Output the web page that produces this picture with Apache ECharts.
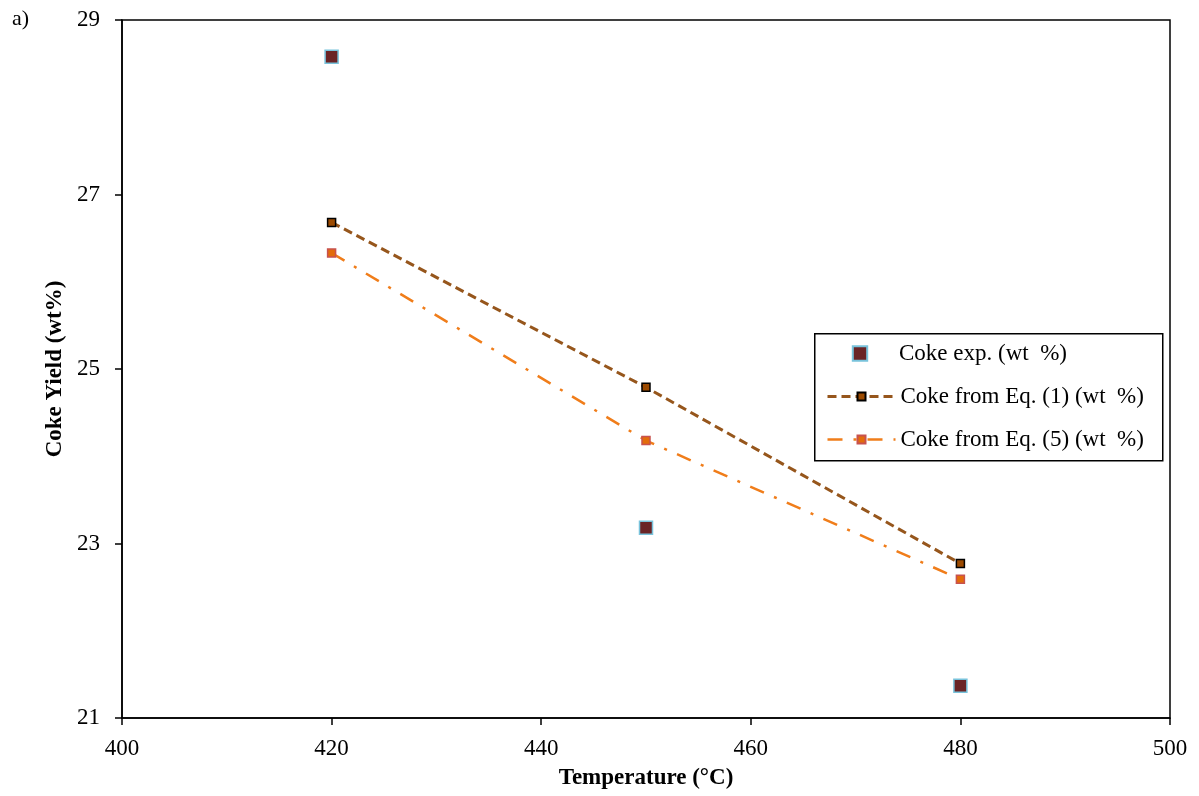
<!DOCTYPE html>
<html><head><meta charset="utf-8">
<script src="https://cdn.jsdelivr.net/npm/echarts@6/dist/echarts.min.js"></script>
<style>html,body{margin:0;padding:0;background:#fff}#c{width:1199px;height:796px}</style>
</head><body><div id="c"></div>
<script>
const temperatures = [420, 450, 480];
const cokeExp = [28.58, 23.18, 21.37];
const cokeEq1 = [26.68, 24.79, 22.77];
const cokeEq5 = [26.33, 24.18, 22.59];
const seriesNames = ['Coke exp. (wt  %)', 'Coke from Eq. (1) (wt  %)', 'Coke from Eq. (5) (wt  %)'];
const xAxisRange = [400, 500, 20];
const yAxisRange = [21, 29, 2];
const xTitle = 'Temperature (°C)';
const yTitle = 'Coke Yield (wt%)';
const panelLabel = 'a)';

const FONT = "'Liberation Serif', 'Times New Roman', serif";
const pair = arr => temperatures.map((t, i) => [t, arr[i]]);
const legendText = {fontFamily: FONT, fontSize: 23, color: '#000'};

const chart = echarts.init(document.getElementById('c'), null, {renderer: 'canvas'});
chart.setOption({
  animation: false,
  backgroundColor: '#fff',
  textStyle: {fontFamily: FONT},
  grid: {left: 122, right: 29, top: 20, bottom: 78, show: true, borderColor: '#000', borderWidth: 1.5, backgroundColor: 'transparent'},
  graphic: [
    {type: 'text', left: 12, top: 8, style: {text: panelLabel, font: '22px ' + FONT, fill: '#000'}},
    {type: 'rect', left: 814, top: 333, z: 5, shape: {width: 348, height: 127}, style: {fill: '#fff', stroke: '#000', lineWidth: 1.5}}
  ],
  xAxis: {
    type: 'value', min: xAxisRange[0], max: xAxisRange[1], interval: xAxisRange[2],
    name: xTitle, nameLocation: 'middle', nameGap: 49,
    nameTextStyle: {fontFamily: FONT, fontSize: 23, fontWeight: 'bold', color: '#000'},
    axisLine: {show: true, lineStyle: {color: '#000', width: 1.5}},
    axisTick: {show: true, inside: false, length: 7, lineStyle: {color: '#000', width: 1.5}},
    axisLabel: {fontFamily: FONT, fontSize: 23, color: '#000', margin: 19},
    splitLine: {show: false}
  },
  yAxis: {
    type: 'value', min: yAxisRange[0], max: yAxisRange[1], interval: yAxisRange[2],
    name: yTitle, nameLocation: 'middle', nameGap: 52, nameRotate: 90,
    nameTextStyle: {fontFamily: FONT, fontSize: 23, fontWeight: 'bold', color: '#000'},
    axisLine: {show: true, lineStyle: {color: '#000', width: 1.5}},
    axisTick: {show: true, inside: false, length: 7, lineStyle: {color: '#000', width: 1.5}},
    axisLabel: {fontFamily: FONT, fontSize: 23, color: '#000', margin: 22},
    splitLine: {show: false}
  },
  legend: [
    {
      orient: 'vertical', left: 826, top: 342, padding: 0, z: 10,
      itemWidth: 68, itemHeight: 18, itemGap: 20,
      textStyle: legendText, lineStyle: {width: 'inherit'},
      data: [seriesNames[0]]
    },
    {
      orient: 'vertical', left: 826, top: 385, padding: 0, z: 10,
      itemWidth: 68, itemHeight: 10, itemGap: 20,
      textStyle: legendText, lineStyle: {width: 'inherit'},
      data: [seriesNames[1], seriesNames[2]]
    }
  ],
  series: [
    {
      name: seriesNames[0], type: 'line', data: pair(cokeExp),
      symbol: 'rect', symbolSize: 13,
      lineStyle: {width: 0},
      itemStyle: {color: '#6a2426', borderColor: '#79c3dc', borderWidth: 1.5},
      z: 3
    },
    {
      name: seriesNames[1], type: 'line', data: pair(cokeEq1),
      symbol: 'rect', symbolSize: 8,
      lineStyle: {color: '#96561c', width: 3, type: [9, 5]},
      itemStyle: {color: '#9c4a00', borderColor: '#000', borderWidth: 1.5},
      z: 2
    },
    {
      name: seriesNames[2], type: 'line', data: pair(cokeEq5),
      symbol: 'rect', symbolSize: 8,
      lineStyle: {color: '#f07d1a', width: 2.5, type: [15, 11, 3, 11]},
      itemStyle: {color: '#e36c0a', borderColor: '#c8524e', borderWidth: 1.5},
      z: 2
    }
  ]
});
</script></body></html>
